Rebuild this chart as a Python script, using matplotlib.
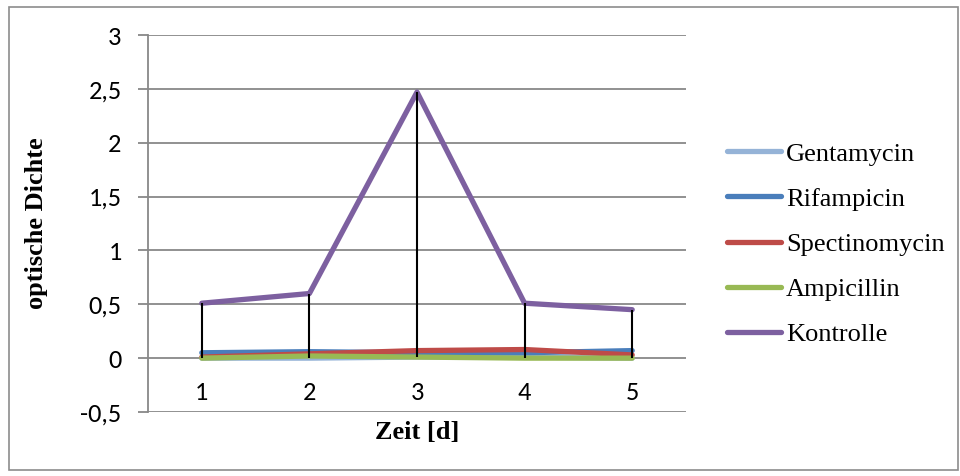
import matplotlib
matplotlib.use("Agg")
import matplotlib.pyplot as plt
from matplotlib.patches import Rectangle
import numpy as np

days = [1, 2, 3, 4, 5]
day_labels = ["1", "2", "3", "4", "5"]

gentamycin = [0.00, 0.00, 0.01, 0.01, 0.00]
rifampicin = [0.05, 0.06, 0.05, 0.05, 0.07]
spectinomycin = [0.01, 0.04, 0.07, 0.08, 0.03]
ampicillin = [0.00, 0.02, 0.01, 0.00, 0.00]
kontrolle = [0.51, 0.60, 2.47, 0.51, 0.45]

series_names = ["Gentamycin", "Rifampicin", "Spectinomycin", "Ampicillin", "Kontrolle"]
series_values = [gentamycin, rifampicin, spectinomycin, ampicillin, kontrolle]
series_colors = ["#95B3D7", "#4A7EBB", "#BE4B48", "#98B954", "#7D60A0"]

y_ticks = [-0.5, 0, 0.5, 1, 1.5, 2, 2.5, 3]
y_tick_labels = ["-0,5", "0", "0,5", "1", "1,5", "2", "2,5", "3"]

grid_color = "#888888"
serif = ["Liberation Serif", "DejaVu Serif"]
sans = ["Carlito", "Lato", "DejaVu Sans"]

fig = plt.figure(figsize=(9.6, 4.76), dpi=100)

# outer chart border
fig.patches.append(Rectangle((9 / 960, 1 - 470 / 476), 949 / 960, 463 / 476,
                             transform=fig.transFigure, fill=False,
                             edgecolor="#8C8C8C", linewidth=1.2))

ax = fig.add_axes([148 / 960, 1 - 412 / 476, 538 / 960, 377 / 476])
ax.set_xlim(0.5, 5.5)
ax.set_ylim(-0.5, 3)

# horizontal gridlines
for yv in y_ticks:
    ax.axhline(yv, color=grid_color, linewidth=1.3, zorder=1)

for spine in ["top", "right", "bottom"]:
    ax.spines[spine].set_visible(False)
ax.spines["left"].set_color(grid_color)
ax.spines["left"].set_linewidth(1.3)

ax.set_yticks(y_ticks)
ax.set_yticklabels(y_tick_labels, fontsize=19, family=sans)
ax.tick_params(axis="y", length=7, width=1.3, color=grid_color, pad=12)
ax.set_xticks([])

# category labels sit below the axis at zero
for d, lab in zip(days, day_labels):
    ax.text(d, -0.315, lab, ha="center", va="center", fontsize=19, family=sans)

lines = []
for name, vals, col in zip(series_names, series_values, series_colors):
    ln, = ax.plot(days, vals, color=col, linewidth=3.8, solid_capstyle="round",
                  solid_joinstyle="round", label=name, zorder=3)
    lines.append(ln)

# high-low lines between the lowest and highest series at each day
all_vals = np.array(series_values)
ax.vlines(days, all_vals.min(axis=0), all_vals.max(axis=0), color="black",
          linewidth=1.5, zorder=4)

ax.set_xlabel("Zeit [d]", fontsize=19, fontweight="bold", family=serif)
ax.set_ylabel("optische Dichte", fontsize=19, fontweight="bold", family=serif)
ax.xaxis.set_label_coords(0.5, -0.025)
ax.yaxis.set_label_coords(-0.186, 0.5)

leg = fig.legend(handles=lines, loc="center left", bbox_to_anchor=(703 / 960, 1 - 244 / 476),
                 frameon=False, prop={"family": serif, "size": 19}, handlelength=2.05,
                 handletextpad=0.2, labelspacing=0.82)

fig.savefig("out.png", dpi=100)
